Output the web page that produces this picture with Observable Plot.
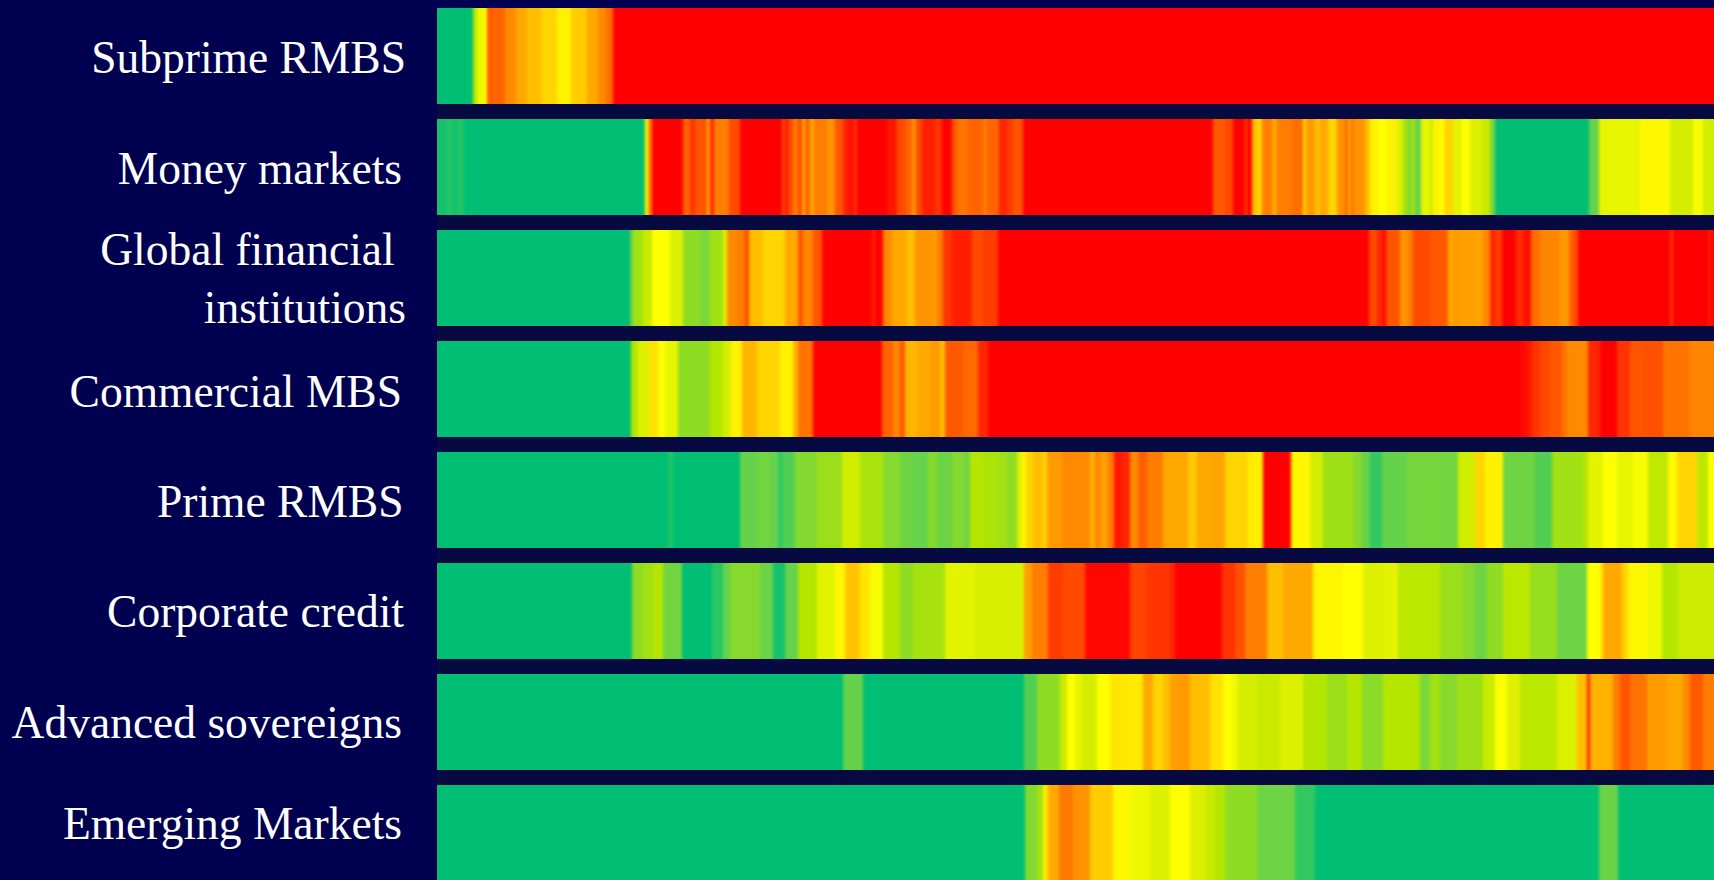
<!DOCTYPE html>
<html>
<head>
<meta charset="utf-8">
<script src="https://cdn.jsdelivr.net/npm/d3@7"></script>
<script src="https://cdn.jsdelivr.net/npm/@observablehq/plot@0.6"></script>
<style>
html,body{margin:0;padding:0;background:#000050;overflow:hidden}
svg{display:block}
</style>
</head>
<body>
<div id="chart"></div>
<script>
const categories = ["Subprime RMBS","Money markets","Global financial\u00a0\ninstitutions","Commercial MBS","Prime RMBS","Corporate credit","Advanced sovereigns","Emerging Markets"];
const observations = 1277;
const stressLevels = [0,1,2,3,4,5,6,7,8,9,10];
const stressColors = ["#00BE73","#66D24B","#8FDC25","#B4E600","#DDF000","#FFFF00","#FFD500","#FFA800","#FF7D00","#FF4A00","#FF0000"];

// [first observation of the run, stress level]
const subprime = [[0,0],[36,3],[40,4.5],[47,5],[50,8.7],[55,8.5],[68,7.7],[79,7],[90,6.5],[104,6],[120,5.3],[134,6.2],[150,7],[161,7.7],[169,8.3],[176,10]];
const money = [[0,0.2],[10,0.4],[14,0.2],[22,0.3],[27,0],[208,5],[211,8],[215,10],[246,8.5],[253,9.3],[258,8.8],[270,7],[273,9.5],[277,8],[292,9],[303,10],[345,9],[348,9.7],[351,9],[356,8],[361,9],[365,7],[368,8.5],[373,7],[377,8],[390,7.5],[398,8.8],[406,9.5],[411,9.8],[417,9.3],[420,10],[450,9.7],[460,9],[469,8.5],[475,7.5],[479,9],[485,9.6],[498,9.3],[505,10],[515,8.7],[520,8.2],[531,8.5],[546,8],[550,8.5],[562,9.5],[570,9.2],[576,8.8],[586,10],[776,8.7],[788,9],[796,10],[808,9],[810,10],[815,6.5],[820,6],[825,8],[835,7],[840,8],[855,8.3],[866,6],[869,7.3],[878,6.5],[883,7],[891,6],[900,7.5],[908,8.5],[911,6.8],[914,8.7],[916,7.5],[928,6.5],[933,5.3],[941,5],[950,5.3],[960,4],[966,2.5],[971,1.5],[974,2.5],[978,1],[984,4.3],[993,3.5],[996,5.3],[1003,5],[1007,6],[1016,4.2],[1025,5],[1033,4],[1045,3.5],[1053,1.5],[1058,0],[1152,1],[1162,4.3],[1203,5.2],[1233,3.8],[1256,4.8],[1266,3.7]];
const globalFin = [[0,0],[193,1],[196,2.5],[206,3.5],[215,5],[233,4],[246,2],[263,1.5],[273,2.5],[286,4],[290,7.7],[300,8],[308,9],[312,6.5],[326,6],[348,7],[361,8.8],[366,7.8],[376,8.8],[385,10],[435,9.5],[438,10],[446,7.7],[455,7],[470,6.5],[478,7.5],[495,7.3],[500,8],[506,9.3],[515,9.6],[535,9],[546,9.2],[561,10],[932,9],[940,9.5],[946,10],[949,8.8],[963,7.5],[971,8],[976,9],[993,8.7],[1011,7],[1016,7.3],[1023,7.2],[1040,7],[1045,7.7],[1053,9.5],[1058,9.2],[1065,10],[1079,9.4],[1086,9.8],[1094,8.3],[1103,7.8],[1123,7.3],[1132,8.5],[1136,9],[1141,10],[1233,9.3],[1236,10],[1271,9.7],[1275,10]];
const commercial = [[0,0],[194,3],[201,4],[212,5.7],[221,5],[228,4.3],[241,2],[273,3],[286,3.8],[294,5.3],[305,6.7],[320,6],[343,5.3],[356,6.8],[361,8.2],[376,10],[445,8.5],[456,7.8],[463,8.7],[468,6.7],[480,7],[493,7.3],[503,6.5],[508,8.7],[526,8.4],[541,9.5],[551,10],[1083,9.9],[1089,9.7],[1095,9.3],[1103,9],[1113,8.7],[1125,8.2],[1130,7.7],[1151,9.5],[1163,10],[1180,9.3],[1193,8.8],[1206,8.9],[1226,8.2],[1253,7.8]];
const prime = [[0,0],[231,0.3],[236,0],[303,1],[320,1.3],[333,1],[341,0.5],[346,0.8],[358,1.7],[380,2.3],[405,3.7],[423,2.7],[446,1.8],[463,1.2],[476,1],[491,1.8],[500,1.1],[506,1.2],[516,1.8],[526,1.3],[533,3],[546,2.8],[560,2.5],[570,2],[580,4],[585,5.2],[589,6],[596,6.5],[606,6],[610,7.3],[625,7.7],[653,6.8],[658,7.8],[663,7.2],[671,8],[677,9.7],[685,9.5],[693,7.7],[701,8.6],[710,8],[726,7],[751,6.3],[760,7],[776,7.1],[788,6],[811,5.4],[826,10],[854,5.2],[873,3.8],[886,2.4],[916,1.8],[925,1],[933,0.5],[945,1],[970,1.4],[1003,1.3],[1021,3.7],[1038,6],[1048,5.3],[1066,1.2],[1098,0.8],[1115,2.5],[1146,3],[1151,4.2],[1166,5],[1180,4.3],[1196,4.8],[1211,3.3],[1231,5.1],[1240,6],[1260,3.2],[1271,5]];
const corporate = [[0,0],[195,2],[206,2.5],[216,3],[226,1.3],[245,0],[275,0.4],[286,1],[293,1.8],[323,1.1],[336,0.2],[348,1],[361,3],[380,4.2],[398,5.2],[408,6.4],[423,5.6],[433,4.8],[446,3],[463,2],[476,2.6],[508,4.2],[538,3.9],[587,7.2],[595,8],[611,9.2],[626,9],[648,9.9],[693,9.1],[710,9.3],[733,9.5],[738,10],[785,9.3],[798,8.9],[808,8],[830,6.5],[846,7],[876,5.2],[906,5],[926,4],[946,4.2],[961,3.2],[1003,2.3],[1026,1.8],[1038,1.2],[1050,2],[1066,3.2],[1093,2.2],[1120,1.2],[1150,5],[1163,5.5],[1166,7],[1185,6],[1191,5.2],[1210,4.5],[1225,3],[1241,3.6]];
const advanced = [[0,0],[406,1],[426,0],[587,0.8],[600,2],[623,3.5],[630,5],[638,4.3],[645,3.8],[660,5],[673,5.6],[690,5.5],[706,7],[716,6],[726,6.5],[733,7.2],[740,7.3],[753,6.5],[773,5.7],[786,5],[795,4.5],[801,3.8],[820,3.5],[843,4],[866,3],[890,2.3],[910,3],[925,1.9],[946,3],[983,1.5],[993,2.5],[1003,1.8],[1020,2.4],[1046,3.5],[1058,5],[1070,4],[1083,3.2],[1120,4],[1140,6.5],[1150,9.5],[1153,6.8],[1176,8],[1183,8.8],[1193,8.2],[1210,7.3],[1230,7],[1246,7.7],[1253,8.7],[1266,8]];
const emerging = [[0,0],[588,1.7],[600,2.5],[606,5.3],[610,6.6],[613,7],[622,8.1],[636,7.5],[653,6.2],[676,5.2],[693,4.5],[713,4],[733,5],[753,4],[768,3.5],[778,3],[788,2],[820,1.2],[858,0.5],[878,0],[1162,1.1],[1181,0]];

const seriesValues = [subprime,money,globalFin,commercial,prime,corporate,advanced,emerging];

const runs = seriesValues.flatMap((s,i) => s.map(([t,level],j) => ({
  category: categories[i],
  x1: t,
  x2: j+1 < s.length ? s[j+1][0] : observations,
  level
})));

// each label sits slightly differently beside its band
const labelDx = [-31.5,-35.5,-31.5,-35.5,-34,-33.5,-35.5,-35.5];
const labelDy = [-2,-2,-3.5,-1,-2.5,-3,-3,-13];

const svg = Plot.plot({
  width: 1714,
  height: 880,
  marginLeft: 437,
  marginRight: 0,
  marginTop: 8,
  marginBottom: 0,
  style: {background:"#000050", overflow:"hidden"},
  x: {domain:[0,observations], axis:null},
  y: {domain:categories, range:[7.6,883.2], paddingInner:0.138, paddingOuter:0, align:0, axis:null},
  color: {type:"linear", domain:stressLevels, range:stressColors, interpolate:"rgb"},
  marks: [
    Plot.rect([0], {x1:0, x2:observations, fill:"#060A40"}),
    // crisp layer beneath keeps the chart's outer edges solid under the softened layer
    Plot.rect(runs, {x1:"x1", x2:"x2", y:"category", fill:"level"}),
    Plot.rect(runs, {x1:"x1", x2:"x2", y:"category", fill:"level"}),
    ...categories.map((c,i) => Plot.text([c], {
      y: d => d,
      text: d => d,
      frameAnchor: "left",
      textAnchor: "end",
      lineAnchor: "middle",
      dx: labelDx[i],
      dy: labelDy[i],
      lineHeight: 1.28,
      fontSize: 45.5,
      fontFamily: "'Liberation Serif', serif",
      fill: "#ffffff"
    }))
  ]
});

// soften the stripes sideways, as in the resampled original
const NS = "http://www.w3.org/2000/svg";
const defs = document.createElementNS(NS,"defs");
defs.innerHTML = '<filter id="soft" x="0" y="0" width="100%" height="100%" color-interpolation-filters="sRGB"><feGaussianBlur stdDeviation="1.5 0" edgeMode="duplicate"/></filter>';
svg.prepend(defs);
const layers = [...svg.querySelectorAll("g")].filter(n => n.querySelectorAll("rect").length > 50);
if (layers.length) layers[layers.length-1].setAttribute("filter","url(#soft)");
document.getElementById("chart").append(svg);
</script>
</body>
</html>
